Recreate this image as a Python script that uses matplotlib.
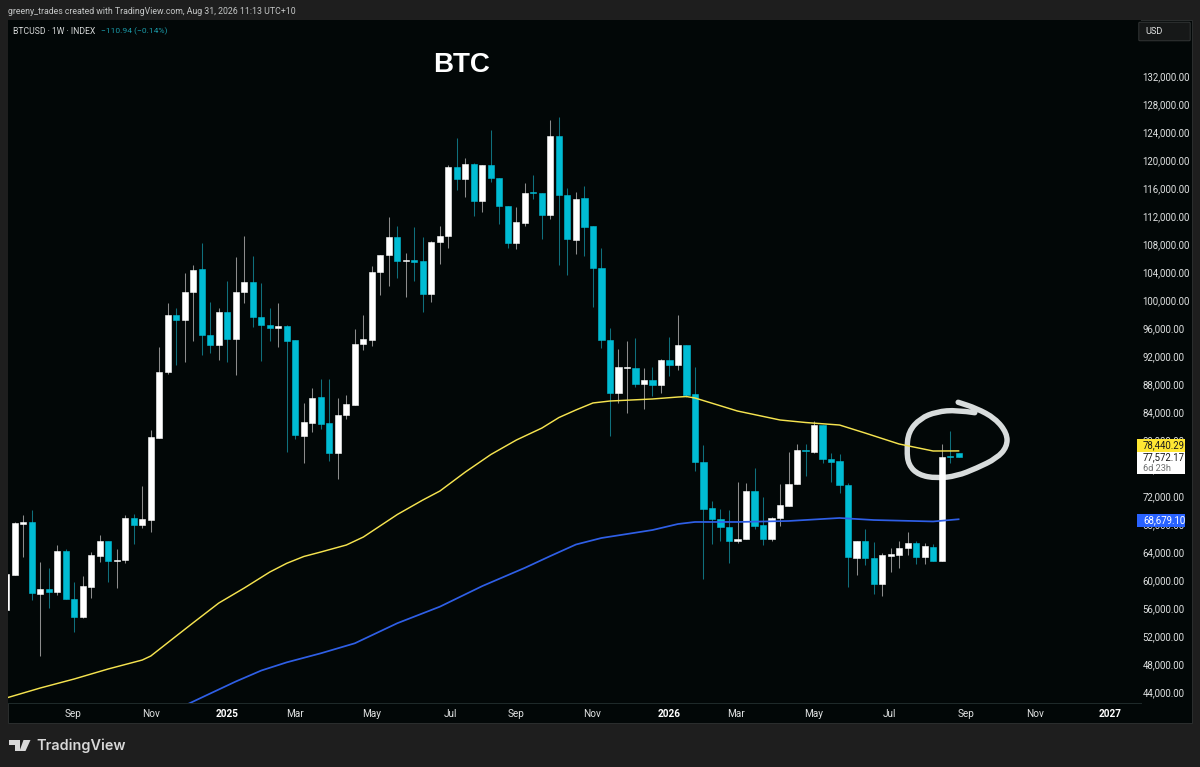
#BTC weekly candles redrawn from a TradingView screenshot

import numpy as np
import matplotlib
matplotlib.use('Agg')
import matplotlib.pyplot as plt
from matplotlib.patches import Rectangle, FancyBboxPatch, Polygon, PathPatch
from matplotlib.path import Path

plt.rcParams['font.family'] = ['Roboto', 'DejaVu Sans']

#one entry per week, first one is cut by the left edge
weeks = list(range(-1, 112))

opens = [55714, 60714, 68043, 68243, 58000, 58671, 58286, 64186, 57286, 54757,
         59043, 63429, 65571, 62714, 62814, 68900, 67857, 68571, 80286, 89671,
         97900, 97186, 101100, 104386, 95043, 93529, 98329, 94386, 101100, 102529,
         97529, 96471, 96043, 96243, 94243, 80614, 82471, 86100, 82386, 78186,
         83614, 84957, 93671, 94286, 103957, 106386, 108957, 105571, 105714, 105529,
         100900, 108286, 109143, 119000, 117243, 119429, 114143, 119243, 117429, 113471,
         108143, 111043, 115386, 115286, 112143, 123471, 115043, 108571, 114529, 110529,
         104614, 94286, 86714, 90286, 90329, 88043, 88571, 87814, 91429, 90757,
         93571, 86529, 76857, 70243, 68714, 67571, 65614, 65857, 72714, 67814,
         65857, 68857, 70571, 73671, 78614, 78329, 82100, 77286, 76957, 73529,
         63186, 65614, 63186, 59386, 63471, 63614, 64529, 65286, 63329, 64757,
         62671, 77714, 78200]

highs = [60857, 68357, 69329, 70000, 62614, 61757, 65000, 64386, 59757, 60571,
         64043, 66429, 65571, 64429, 69286, 69429, 73471, 81429, 93329, 99614,
         98814, 103900, 105000, 108186, 99757, 98900, 102671, 106186, 109143, 106329,
         102471, 98814, 99529, 96429, 94243, 85329, 87386, 88757, 88671, 86043,
         86429, 95814, 97857, 104900, 106471, 111900, 110614, 106757, 110471, 108957,
         108429, 110571, 119286, 123186, 120243, 119614, 119243, 124286, 117429, 113471,
         113329, 116671, 117900, 115286, 125714, 126186, 115957, 115386, 116329, 110529,
         107386, 95957, 93000, 94186, 94614, 90243, 90471, 91571, 94671, 97857,
         93571, 90471, 79286, 71329, 70100, 70000, 74000, 73900, 75957, 71814,
         69043, 73714, 78243, 79429, 79429, 82757, 82100, 78100, 77957, 73900,
         65614, 67243, 65471, 63814, 64614, 65571, 66814, 65571, 65329, 65143,
         79429, 81329, 78200]

lows = [55714, 60714, 63329, 57143, 49143, 56043, 57814, 57243, 52614, 54614,
        57471, 62529, 59757, 58814, 62471, 65143, 67471, 66814, 80286, 89429,
        90714, 91100, 94186, 92143, 92471, 91429, 91186, 89243, 99529, 96100,
        91329, 94143, 93329, 78329, 80100, 76671, 81186, 81529, 77043, 74429,
        83043, 84957, 92857, 93429, 100714, 102043, 103100, 100386, 102714, 98329,
        99671, 105143, 107471, 115714, 114671, 112000, 112614, 116814, 110857, 107429,
        107286, 110614, 114386, 108671, 111614, 105000, 103614, 106529, 106329, 98957,
        93100, 80571, 85243, 83814, 87529, 84386, 86286, 86671, 89143, 90000,
        86186, 75571, 60100, 65100, 65614, 62471, 65243, 65814, 67286, 65000,
        65614, 67714, 70571, 73671, 74857, 78186, 76671, 74043, 72386, 58957,
        60714, 62143, 58000, 57757, 61186, 61757, 63571, 62243, 62243, 62671,
        62671, 76757, 77572]

closes = [60857, 68100, 68243, 58100, 58671, 58329, 64186, 57243, 54714, 59143,
          63529, 65571, 62714, 62814, 68900, 67857, 68671, 80386, 89757, 97900,
          97186, 101143, 104286, 95000, 93529, 98329, 94386, 101143, 102529, 97529,
          96386, 96043, 96243, 94186, 80714, 82571, 86043, 82286, 78186, 83614,
          85143, 93757, 94386, 104043, 106471, 108957, 105571, 105714, 105471, 100900,
          108286, 109186, 119000, 117243, 119429, 114143, 119243, 117386, 113386, 108143,
          111100, 115329, 115286, 112143, 123471, 115043, 108671, 114429, 110471, 104614,
          94243, 86714, 90386, 90386, 88043, 88571, 87814, 91429, 90757, 93571,
          86429, 76857, 70186, 68671, 67529, 65614, 65900, 72714, 67714, 65857,
          68900, 70671, 73714, 78614, 78429, 82100, 77329, 76900, 73529, 63243,
          65614, 63100, 59386, 63529, 63714, 64571, 65286, 63329, 64857, 62671,
          77614, 77614, 77572]

#moving averages, read at some of the weeks
ma_yellow_weeks = [-1, 3, 7, 11, 15, 16, 19, 21, 24, 27, 30, 32, 34, 36, 39, 41, 45, 48, 50, 53,
                   56, 59, 62, 64, 66, 68, 70, 75, 78, 79, 80, 85, 90, 93, 97, 100, 104, 108, 111]
ma_yellow = [43140, 44570, 45860, 47290, 48570, 49140, 52000, 53900, 56710, 58860,
             61140, 62390, 63360, 64000, 65000, 66140, 69360, 71430, 72710, 75430,
             77930, 80000, 81710, 83210, 84290, 85290, 85570, 85860, 86140, 86210,
             86000, 84140, 82860, 82500, 82140, 81000, 79430, 78430, 78440]

ma_blue_weeks = [20, 23, 26, 29, 32, 36, 40, 45, 50, 55, 60, 63, 66, 69, 72, 75, 78, 80, 85,
                 91, 97, 101, 108, 111]
ma_blue = [42070, 43790, 45500, 47070, 48240, 49530, 50960, 53830, 56190, 59140,
           61740, 63430, 65070, 66000, 66570, 67140, 68000, 68290, 68290,
           68430, 68860, 68570, 68360, 68679]

#hand drawn circle around the last candles
circle_weeks = [112.9, 110.8, 108.4, 106.5, 105.1, 104.9, 105.1, 106.3, 108.4, 110.8,
                113.1, 115.5, 116.7, 116.7, 115.3, 113.1, 110.95]
circle_prices = [83900, 84290, 84040, 83100, 81190, 78570, 76430, 75000, 74530, 74860,
                 75960, 77390, 79040, 80960, 83100, 84530, 85390]

price_ticks = list(range(44000, 136000, 4000))
date_ticks = [6.86, 16, 24.97, 32.96, 42, 51.2, 58.95, 67.9, 76.95, 84.8, 93.9, 102.9, 111.9, 120, 128.8]
date_labels = ['Sep', 'Nov', '2025', 'Mar', 'May', 'Jul', 'Sep', 'Nov', '2026', 'Mar', 'May', 'Jul', 'Sep', 'Nov', '2027']

W, H = 1200, 767
PAGE = '#1e1e1e'
CHART = '#020707'
UP = '#ffffff'
DOWN = '#00bcd4'
UP_WICK = '#8c8c8c'
DOWN_WICK = '#0f6f7c'
LABEL = '#e0e2e2'


def fx(x):
    return x / W


def fy(y):
    return 1 - y / H


fig = plt.figure(figsize=(W / 100, H / 100), dpi=100, facecolor=PAGE)

#dark panel behind chart and both scales
fig.add_artist(Rectangle((fx(8), fy(723)), fx(1184), 703 / H, transform=fig.transFigure,
                         facecolor=CHART, edgecolor='#2b2e2e', linewidth=0.7, zorder=-1))

ax = fig.add_axes([fx(8), fy(703), fx(1133), 683 / H], facecolor=CHART)
ax.set_xlim(-0.788, 132.45)
ax.set_ylim(42429, 140000)

weeks_arr = np.array(weeks)
o = np.array(opens)
c = np.array(closes)
up = c >= o

ax.vlines(weeks_arr[up], np.array(lows)[up], np.array(highs)[up], color=UP_WICK, linewidth=0.75, zorder=2)
ax.vlines(weeks_arr[~up], np.array(lows)[~up], np.array(highs)[~up], color=DOWN_WICK, linewidth=0.75, zorder=2)
ax.bar(weeks_arr[up], (c - o)[up], bottom=o[up], width=0.72, color=UP, edgecolor=UP, linewidth=0.4, zorder=3)
ax.bar(weeks_arr[~up], (o - c)[~up], bottom=c[~up], width=0.72, color=DOWN, edgecolor=DOWN, linewidth=0.4, zorder=3)

ax.plot(ma_yellow_weeks, ma_yellow, color='#f5e34f', linewidth=1.05, zorder=4)
ax.plot(ma_blue_weeks, ma_blue, color='#2f5fe6', linewidth=1.25, zorder=4)

#circle goes through the midpoints, keeps it looking hand drawn and not angular
cw = np.array(circle_weeks)
cp = np.array(circle_prices)
verts = [(cw[0], cp[0])]
codes = [Path.MOVETO]
for k in range(1, len(cw) - 1):
    verts.append((cw[k], cp[k]))
    codes.append(Path.CURVE3)
    verts.append(((cw[k] + cw[k + 1]) / 2, (cp[k] + cp[k + 1]) / 2))
    codes.append(Path.CURVE3)
verts.append((cw[-1], cp[-1]))
codes.append(Path.LINETO)
ax.add_patch(PathPatch(Path(verts, codes), facecolor='none', edgecolor='#d8dcdc', linewidth=3.9,
                       capstyle='round', joinstyle='round', zorder=2.5))

ax.yaxis.tick_right()
ax.set_yticks(price_ticks)
ax.set_yticklabels(['{:,.2f}'.format(p) for p in price_ticks])
ax.set_xticks(date_ticks)
ax.set_xticklabels(date_labels)
ax.tick_params(axis='y', length=0, pad=1.2, labelsize=6.9, labelcolor=LABEL)
ax.tick_params(axis='x', length=0, pad=4.2, labelsize=7.2, labelcolor=LABEL)
for lab in ax.get_xticklabels():
    if lab.get_text().startswith('20'):
        lab.set_fontweight('bold')
        lab.set_color('#ffffff')

for s in ['top', 'left', 'right']:
    ax.spines[s].set_visible(False)
ax.spines['bottom'].set_color('#1f2b2b')
ax.spines['bottom'].set_linewidth(0.7)

#header text
fig.text(fx(8), fy(11), 'greeny_trades created with TradingView.com, Aug 31, 2026 11:13 UTC+10',
         color='#c4c6c6', fontsize=6.3, va='center')
fig.text(fx(13), fy(31), 'BTCUSD · 1W · INDEX', color='#d6d8d8', fontsize=6.2, va='center')
fig.text(fx(101), fy(31), '−110.94 (−0.14%)', color='#1a97a5', fontsize=6.1, va='center')
fig.text(fx(462), fy(64.5), 'BTC', color='#ffffff', fontsize=20, fontweight='bold', family='Liberation Sans',
         ha='center', va='center')

#scale button
fig.add_artist(FancyBboxPatch((fx(1140), fy(40)), fx(49), 17 / H, transform=fig.transFigure,
                              boxstyle='round,pad=0.001', facecolor='#161818', edgecolor='#333636',
                              linewidth=0.7, zorder=2))
fig.text(fx(1145), fy(31.5), 'USD', color=LABEL, fontsize=6.6, va='center', zorder=3)

#price tags on the scale
fig.add_artist(Rectangle((fx(1137), fy(451.7)), fx(48), 12.7 / H, transform=fig.transFigure,
                         facecolor='#ffe733', linewidth=0, zorder=2))
fig.text(fx(1143), fy(445.5), '78,440.29', color='#1c1c1c', fontsize=6.9, va='center', zorder=3)
fig.add_artist(Rectangle((fx(1137), fy(474.3)), fx(48), 22.6 / H, transform=fig.transFigure,
                         facecolor='#ffffff', linewidth=0, zorder=2))
fig.text(fx(1143), fy(457.5), '77,572.17', color='#1c1c1c', fontsize=6.9, va='center', zorder=3)
fig.text(fx(1143), fy(468), '6d 23h', color='#6e7070', fontsize=6.6, va='center', zorder=3)
fig.add_artist(Rectangle((fx(1137), fy(526.7)), fx(48), 12.7 / H, transform=fig.transFigure,
                         facecolor='#2962ff', linewidth=0, zorder=2))
fig.text(fx(1143), fy(520), '68,679.10', color='#ffffff', fontsize=6.9, va='center', zorder=3)

#TradingView logo at the bottom
logo_t = [(9, 740), (20, 740), (20, 751), (14.5, 751), (14.5, 745), (9, 745)]
logo_slash = [(23.5, 740), (30.5, 740), (25.5, 751), (19.5, 751)]
for pts in [logo_t, logo_slash]:
    fig.add_artist(Polygon([(fx(x), fy(y)) for x, y in pts], closed=True, transform=fig.transFigure,
                           facecolor='#d8d8d8', linewidth=0, zorder=2))
fig.text(fx(36), fy(745.5), 'TradingView', color='#d8d8d8', fontsize=10.4, family='Inter',
         fontweight='semibold', va='center')

fig.savefig('out.png', dpi=100, facecolor=PAGE)
